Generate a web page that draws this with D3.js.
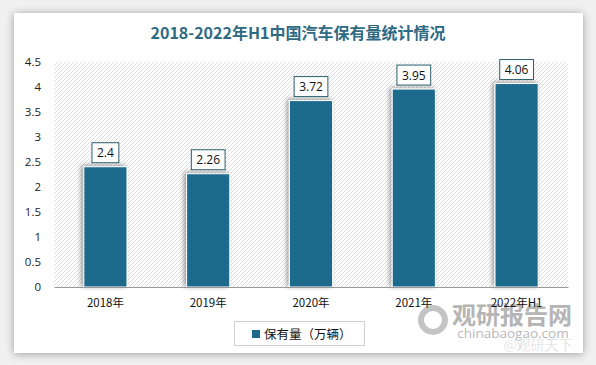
<!DOCTYPE html>
<html><head><meta charset="utf-8">
<script src="https://cdn.jsdelivr.net/npm/d3@7"></script>
<style>html,body{margin:0;padding:0;background:#f0f0f0;}svg{display:block;}</style>
</head><body>
<script>
const categories = ["2018年","2019年","2020年","2021年","2022年H1"];
const values = [2.4, 2.26, 3.72, 3.95, 4.06];
const yTicks = [0,0.5,1,1.5,2,2.5,3,3.5,4,4.5];
const seriesName = "保有量（万辆）";
const title = "2018-2022年H1中国汽车保有量统计情况";

(function(){
const W = 596, H = 365;
const svg = d3.select("body").append("svg").attr("width", W).attr("height", H);
const defs = svg.append("defs");
const sh = defs.append("filter").attr("id","cardshadow").attr("x","-10%").attr("y","-10%").attr("width","120%").attr("height","120%");
sh.append("feGaussianBlur").attr("in","SourceAlpha").attr("stdDeviation",4);
sh.append("feOffset").attr("dx",0).attr("dy",1).attr("result","b");
sh.append("feComponentTransfer").append("feFuncA").attr("type","linear").attr("slope",0.35);
const m1 = sh.append("feMerge"); m1.append("feMergeNode"); m1.append("feMergeNode").attr("in","SourceGraphic");
const bs = defs.append("filter").attr("id","barshadow").attr("x","-30%").attr("y","-10%").attr("width","160%").attr("height","120%");
bs.append("feGaussianBlur").attr("in","SourceAlpha").attr("stdDeviation",2.5);
bs.append("feOffset").attr("dx",-2).attr("dy",-1).attr("result","b");
bs.append("feComponentTransfer").append("feFuncA").attr("type","linear").attr("slope",0.4);
const m2 = bs.append("feMerge"); m2.append("feMergeNode"); m2.append("feMergeNode").attr("in","SourceGraphic");
const pat = defs.append("pattern").attr("id","hatch").attr("patternUnits","userSpaceOnUse").attr("width",4).attr("height",4);
pat.append("rect").attr("width",4).attr("height",4).attr("fill","#fff");
pat.append("path").attr("d","M-1,1 l2,-2 M0,4 l4,-4 M3,5 l2,-2").attr("stroke","#d4d4d4").attr("stroke-width",0.8);

svg.append("rect").attr("x",14).attr("y",13).attr("width",569).attr("height",340).attr("fill","#fff").attr("filter","url(#cardshadow)");

svg.append("text").attr("x",298).attr("y",39).attr("text-anchor","middle")
  .attr("font-family","'Noto Sans CJK SC', sans-serif").attr("font-weight","bold").attr("font-size",16)
  .attr("fill","#2f6a83").text(title);

const pl = 54, pr = 568, pt = 61.5, pb = 287;
const x = d3.scaleBand().domain(categories).range([pl,pr]).paddingInner(0.58).paddingOuter(0.29);
const y = d3.scaleLinear().domain([0,4.5]).range([pb,pt]);

svg.append("rect").attr("x",pl).attr("y",pt).attr("width",pr-pl).attr("height",pb-pt).attr("fill","url(#hatch)");

const font = "'Noto Sans CJK SC', 'Open Sans', sans-serif";
const ya = svg.append("g").attr("transform",`translate(${pl},0)`)
  .call(d3.axisLeft(y).tickValues(yTicks).tickSize(0).tickPadding(13).tickFormat(d=>String(d)));
ya.select(".domain").remove();
ya.selectAll("text").attr("font-family","'Open Sans', sans-serif").attr("font-size",11.5).attr("fill","#222");

svg.selectAll("rect.bar").data(values).enter().append("rect").attr("class","bar")
  .attr("x",(d,i)=>x(categories[i])).attr("y",d=>y(d))
  .attr("width",x.bandwidth()).attr("height",d=>pb-y(d))
  .attr("fill","#1f6a8c").attr("stroke","#fff").attr("stroke-width",1).attr("filter","url(#barshadow)");

// watermark (behind axis labels)
const wm = svg.append("g");
wm.append("circle").attr("cx",433).attr("cy",320).attr("r",12).attr("fill","none").attr("stroke","#c4c4c4").attr("stroke-width",6);
wm.append("text").attr("x",512).attr("y",324).attr("text-anchor","middle").attr("font-family","'Noto Sans CJK SC', sans-serif")
  .attr("font-weight","bold").attr("font-size",24).attr("fill","#b5b5b5").text("观研报告网");
wm.append("text").attr("x",513).attr("y",338).attr("text-anchor","middle").attr("font-family","'Open Sans', sans-serif")
  .attr("font-size",13.5).attr("fill","#b8b8b8").text("chinabaogao.com");

const xa = svg.append("g").attr("transform",`translate(0,${pb})`)
  .call(d3.axisBottom(x).tickSize(0).tickPadding(12));
xa.select(".domain").attr("stroke","#999").attr("stroke-width",1.2);
xa.selectAll("text").attr("font-family",font).attr("font-size",11.5).attr("fill","#111");

const lab = svg.selectAll("g.lab").data(values).enter().append("g").attr("class","lab");
lab.each(function(d,i){
  const g = d3.select(this);
  const cx = x(categories[i]) + x.bandwidth()/2;
  const t = g.append("text").attr("x",cx).attr("y",y(d)-9.5).attr("text-anchor","middle")
    .attr("font-family","'Open Sans', sans-serif").attr("font-size",12).attr("fill","#111").text(String(d));
  const w = t.node().getComputedTextLength() + 10;
  g.insert("rect","text").attr("x",cx-w/2).attr("y",y(d)-24).attr("width",w).attr("height",20)
    .attr("fill","#fff").attr("stroke","#2b5d6c").attr("stroke-width",1);
});

const lg = svg.append("g");
lg.append("rect").attr("x",234.5).attr("y",321.5).attr("width",130).attr("height",24).attr("fill","#fff").attr("stroke","#d0d0d0");
lg.append("rect").attr("x",252).attr("y",330).attr("width",8).attr("height",8).attr("fill","#1f6a8c");
lg.append("text").attr("x",264).attr("y",338.5).attr("font-family",font).attr("font-size",12.5).attr("fill","#111").text(seriesName);

svg.append("text").attr("x",538).attr("y",350).attr("text-anchor","middle").attr("font-family","'Noto Sans CJK SC', sans-serif")
  .attr("font-size",14).attr("fill","#d0d0d0").attr("stroke","#fff").attr("stroke-width",0.4).text("@观研天下");
})();
</script>
</body></html>
